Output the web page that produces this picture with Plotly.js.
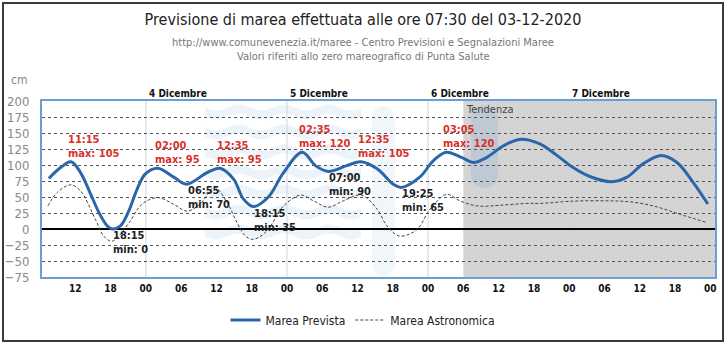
<!DOCTYPE html>
<html>
<head>
<meta charset="utf-8">
<script src="https://cdn.plot.ly/plotly-3.0.1.min.js"></script>
<style>
  html, body { margin: 0; padding: 0; background: #fff; }
  #wrap { position: relative; width: 726px; height: 345px; }
  #chart { position: absolute; left: 0; top: 0; width: 726px; height: 345px; }
  #frame { position: absolute; left: 2px; top: 2px; width: 718px; height: 336px; border: 2px solid #3a3a3a; pointer-events: none; }
</style>
</head>
<body>
<div id="wrap"><div id="chart"></div><div id="frame"></div></div>
<script>
// ---- data ----
const previstaTime = [
  '2020-12-03 07:30','2020-12-03 09:30','2020-12-03 11:15','2020-12-03 12:50','2020-12-03 14:35','2020-12-03 16:00','2020-12-03 17:25','2020-12-03 18:15','2020-12-03 19:40','2020-12-03 21:05','2020-12-03 22:30','2020-12-03 23:55',
  '2020-12-04 02:00','2020-12-04 04:45','2020-12-04 06:55','2020-12-04 10:25','2020-12-04 12:35','2020-12-04 14:55','2020-12-04 16:35','2020-12-04 18:15','2020-12-04 20:50','2020-12-04 23:20',
  '2020-12-05 02:35','2020-12-05 04:50','2020-12-05 07:00','2020-12-05 10:10','2020-12-05 12:35','2020-12-05 15:20','2020-12-05 18:05','2020-12-05 19:25','2020-12-05 22:35',
  '2020-12-06 00:55','2020-12-06 03:05','2020-12-06 05:40','2020-12-06 07:45','2020-12-06 10:00','2020-12-06 12:50','2020-12-06 15:35','2020-12-06 19:00','2020-12-06 21:55',
  '2020-12-07 00:40','2020-12-07 03:30','2020-12-07 07:15','2020-12-07 09:50','2020-12-07 12:35','2020-12-07 15:40','2020-12-07 18:20','2020-12-07 21:05','2020-12-07 23:35'
];
const previstaValue = [
  79, 96, 105, 89, 55, 26, 5, 0, 5, 28, 62, 86,
  95, 81, 70, 88, 95, 78, 47, 35, 50, 87,
  120, 99, 90, 99, 105, 94, 70, 65, 81,
  107, 120, 112, 104, 112, 130, 140, 133, 115,
  96, 82, 74, 81, 102, 115, 104, 73, 39
];
const astroTime = [
  '2020-12-03 07:20','2020-12-03 08:55','2020-12-03 11:10','2020-12-03 12:50','2020-12-03 15:25','2020-12-03 16:50','2020-12-03 18:15','2020-12-03 21:10','2020-12-03 22:45',
  '2020-12-04 00:10','2020-12-04 02:10','2020-12-04 04:40','2020-12-04 07:00','2020-12-04 09:15','2020-12-04 11:40','2020-12-04 13:50','2020-12-04 15:30','2020-12-04 16:55','2020-12-04 18:20','2020-12-04 20:35','2020-12-04 23:25',
  '2020-12-05 02:20','2020-12-05 04:30','2020-12-05 07:00','2020-12-05 09:35','2020-12-05 12:40','2020-12-05 15:20','2020-12-05 17:00','2020-12-05 19:10','2020-12-05 22:05',
  '2020-12-06 00:20','2020-12-06 03:10','2020-12-06 05:25','2020-12-06 08:20','2020-12-06 12:10','2020-12-06 16:50','2020-12-06 19:00',
  '2020-12-07 00:40','2020-12-07 06:25','2020-12-07 10:20','2020-12-07 14:20','2020-12-07 18:50','2020-12-07 23:25'
];
const astroValue = [
  36, 57, 69, 60, 15, -11, -19, 10, 33,
  44, 49, 39, 28, 39, 65, 41, 10, -11, -16, -3, 36,
  53, 44, 34, 44, 53, 31, 5, -11, -1,
  31, 54, 44, 36, 37, 40, 40,
  43.5, 44, 42.5, 36, 23, 10
];
// extreme values labelled on the chart
const extremaTime = ['2020-12-03 11:15','2020-12-03 18:15','2020-12-04 02:00','2020-12-04 06:55','2020-12-04 12:35','2020-12-04 18:15','2020-12-05 02:35','2020-12-05 07:00','2020-12-05 12:35','2020-12-05 19:25','2020-12-06 03:05'];
const extremaLabel = ['11:15','18:15','02:00','06:55','12:35','18:15','02:35','07:00','12:35','19:25','03:05'];
const extremaKind  = ['max','min','max','min','max','min','max','min','max','min','max'];
const extremaValue = [105, 0, 95, 70, 95, 35, 120, 90, 105, 65, 120];
const dayStart = ['2020-12-04','2020-12-05','2020-12-06','2020-12-07','2020-12-08'];
const dayLabel = ['4 Dicembre','5 Dicembre','6 Dicembre','7 Dicembre'];
const tendenzaStart = '2020-12-06 06:00';
const seriesNames = ['Marea Prevista','Marea Astronomica'];

// ---- layout / styling ----
const X_RANGE = ['2020-12-03 06:20','2020-12-08 00:48'];
const COND = '"DejaVu Sans Condensed", "Liberation Sans Narrow", Roboto, sans-serif';
const NARROW = '"Liberation Sans Narrow", "DejaVu Sans Condensed", Roboto, sans-serif';
const PL = 42, PR = 715, PT = 101, PB = 277;           // plot box in pixels
const px = v => (v - PL) / (PR - PL);                  // pixel -> paper x
const py = v => (PB - v) / (PB - PT);                  // pixel -> paper y

const traces = [
  { x: previstaTime, y: previstaValue, name: seriesNames[0], type: 'scatter', mode: 'lines',
    line: { color: '#2a66aa', width: 3, shape: 'spline', smoothing: 1 }, hoverinfo: 'skip' },
  { x: astroTime, y: astroValue, name: seriesNames[1], type: 'scatter', mode: 'lines',
    line: { color: '#444444', width: 1, dash: '3px,2px', shape: 'spline', smoothing: 1 }, hoverinfo: 'skip' }
];

const shapes = [
  { type: 'rect', xref: 'x', yref: 'paper', x0: tendenzaStart, x1: X_RANGE[1], y0: 0, y1: 1,
    fillcolor: '#d4d4d4', line: { width: 0 }, layer: 'below' }
];
// faint watermark (decoration): wavy bands + two rounded bars
function waveBand(x0, x1, yc, h) {
  let top = [], bot = [];
  for (let x = x0; x <= x1; x += 3) {
    const d = 3 * Math.sin((x - x0) / 45 * 2 * Math.PI);
    top.push([px(x), py(yc - h / 2 + d)]);
    bot.push([px(x), py(yc + h / 2 + d)]);
  }
  bot.reverse();
  const pts = top.concat(bot);
  return 'M' + pts.map(p => p[0].toFixed(4) + ',' + p[1].toFixed(4)).join(' L') + ' Z';
}
[112, 132, 152, 172, 192, 212, 232].forEach(yc => shapes.push({ type: 'path', xref: 'paper', yref: 'paper',
  path: waveBand(205, 362, yc, 9), fillcolor: '#cfe0f1', opacity: 0.4, line: { width: 0 }, layer: 'below' }));
function roundBar(x0, x1, y0, y1) {
  const r = (x1 - x0) / 2;
  const k = 0.55 * r;
  return 'M' + px(x0) + ',' + py(y0 + r) +
    ' C' + px(x0) + ',' + py(y0 + r - k) + ' ' + px(x0 + r - k) + ',' + py(y0) + ' ' + px(x0 + r) + ',' + py(y0) +
    ' C' + px(x1 - r + k) + ',' + py(y0) + ' ' + px(x1) + ',' + py(y0 + r - k) + ' ' + px(x1) + ',' + py(y0 + r) +
    ' L' + px(x1) + ',' + py(y1 - r) +
    ' C' + px(x1) + ',' + py(y1 - r + k) + ' ' + px(x1 - r + k) + ',' + py(y1) + ' ' + px(x1 - r) + ',' + py(y1) +
    ' C' + px(x0 + r - k) + ',' + py(y1) + ' ' + px(x0) + ',' + py(y1 - r + k) + ' ' + px(x0) + ',' + py(y1 - r) + ' Z';
}
shapes.push({ type: 'path', xref: 'paper', yref: 'paper', path: roundBar(372, 395, 106, 276), fillcolor: '#d6e4f2', opacity: 0.35, line: { width: 0 }, layer: 'below' });
shapes.push({ type: 'path', xref: 'paper', yref: 'paper', path: roundBar(471, 498, 106, 188), fillcolor: '#9fb8d1', opacity: 0.4, line: { width: 0 }, layer: 'below' });
dayStart.forEach(d => shapes.push({ type: 'line', xref: 'x', yref: 'paper', x0: d, x1: d, y0: 0, y1: 1,
  line: { color: '#c9d6e3', width: 1 }, layer: 'below' }));

const annotations = [];
extremaTime.forEach((t, i) => {
  const isMax = extremaKind[i] === 'max';
  annotations.push({
    x: t, y: extremaValue[i], xref: 'x', yref: 'y', showarrow: false,
    text: extremaLabel[i] + '<br>' + extremaKind[i] + ': ' + extremaValue[i],
    xanchor: 'left', yanchor: 'middle', align: 'left',
    xshift: isMax ? -5 : -1, yshift: isMax ? 15.5 : -13.5,
    font: { family: COND, size: 11, color: isMax ? '#d9302b' : '#1e1e1e', weight: 'bold' }
  });
});
dayLabel.forEach((d, i) => annotations.push({
  x: dayStart[i], y: 1, xref: 'x', yref: 'paper', yanchor: 'bottom', xanchor: 'left', xshift: 1, yshift: 0,
  text: d, showarrow: false, font: { family: COND, size: 10, color: '#111', weight: 'bold' }
}));
annotations.push({ x: tendenzaStart, y: 1, xref: 'x', yref: 'paper', xanchor: 'left', yanchor: 'top', xshift: 1, yshift: 0,
  text: 'Tendenza', showarrow: false, font: { family: COND, size: 11, color: '#444' } });
annotations.push({ x: px(363), y: py(42), xref: 'paper', yref: 'paper', xanchor: 'center', yanchor: 'middle', showarrow: false,
  text: 'http://www.comunevenezia.it/maree - Centro Previsioni e Segnalazioni Maree', font: { family: NARROW, size: 11, color: '#777' } });
annotations.push({ x: px(363), y: py(56), xref: 'paper', yref: 'paper', xanchor: 'center', yanchor: 'middle', showarrow: false,
  text: 'Valori riferiti allo zero mareografico di Punta Salute', font: { family: NARROW, size: 11, color: '#777' } });
annotations.push({ x: px(9), y: py(80), xref: 'paper', yref: 'paper', xanchor: 'left', yanchor: 'middle', showarrow: false,
  text: 'cm', font: { family: NARROW, size: 12, color: '#888' } });

const layout = {
  width: 726, height: 345,
  margin: { l: PL, r: 726 - PR, t: PT, b: 345 - PB },
  paper_bgcolor: '#ffffff', plot_bgcolor: '#ffffff',
  title: { text: 'Previsione di marea effettuata alle ore 07:30 del 03-12-2020', x: 0.5, xref: 'container', xanchor: 'center',
    y: 1 - 19/345, yref: 'container', yanchor: 'middle', font: { family: NARROW, size: 16, color: '#222' } },
  xaxis: {
    type: 'date', range: X_RANGE, tick0: '2020-12-03 00:00', dtick: 6 * 3600 * 1000, tickformat: '%H',
    showgrid: false, zeroline: false, showline: true, mirror: true, linecolor: '#6c9fcf', linewidth: 2,
    ticks: '', ticklabelstandoff: 1,
    tickfont: { family: COND, size: 10, color: '#111', weight: 'bold' }, fixedrange: true
  },
  yaxis: {
    range: [-75, 200], tick0: -75, dtick: 25, showgrid: true, gridcolor: '#555', griddash: 'dot', gridwidth: 1,
    zeroline: true, zerolinecolor: '#000', zerolinewidth: 1.5,
    showline: true, mirror: true, linecolor: '#6c9fcf', linewidth: 2,
    ticks: '', ticklabelstandoff: 8,
    tickfont: { family: NARROW, size: 13, color: '#888' }, fixedrange: true
  },
  showlegend: true,
  legend: { orientation: 'h', x: px(363), xanchor: 'center', y: py(320), yanchor: 'middle',
    font: { family: COND, size: 12, color: '#222' }, bgcolor: 'rgba(0,0,0,0)' },
  shapes: shapes,
  annotations: annotations
};

Plotly.newPlot('chart', traces, layout, { displayModeBar: false, staticPlot: true });
</script>
</body>
</html>
